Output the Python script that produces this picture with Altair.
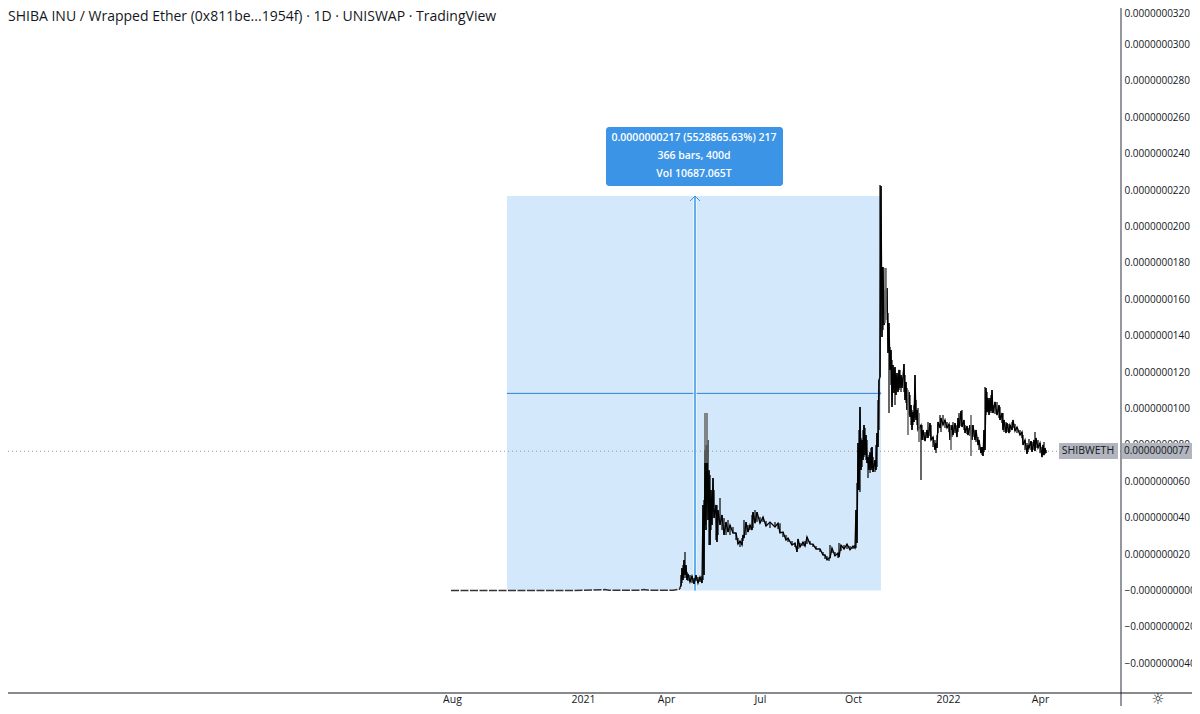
import altair as alt
import pandas as pd

# (trading day since the first bar on the chart, low, high); prices in units of 1e-10
may_bars = [(229,.8,1.9),(230,2.5,8.5),(231,4.1,12.4),(232,5.8,14),(233,6.9,16.8),(234,8.5,21.2),(235,6.9,14),(236,5.8,10.2),(237,5.2,9.1),(239,4.7,8.5),(241,4.1,8),(243,3.6,6.9),(245,5.2,8.5),(247,4.1,7.4),(249,4.7,7.4),(251,4.1,8),(252,5.8,47),(253,8.5,49.7),(254,36,77),(255,33.2,80),(256,50,80),(257,38.7,82.7),(258,25,66),(259,25,63.5),(260,33.2,55.2),(261,36,49.7),(262,43.1,61.8),(263,39.8,55.2),(265,27.7,47),(266,26.6,47),(267,30.5,44.2),(269,36,50.8),(271,33.2,41.5),(273,30.5,39.8),(275,30.5,37.6),(277,32.1,38.7),(279,30.5,36),(282,31.6,34.9),(285,27.7,31.6),(287,25.5,28.8),(289,23.9,27.2),(291,25,28.8),(292,27.2,30.5),(293,28.8,38.7),(295,30.5,37.6),(297,32.1,36),(299,33.2,36),(301,33.2,41.5),(302,34.3,43.1),(304,37,44.2),(306,37.6,43.1)]
summer_bars = [(309,37,40.4),(312,37.6,40.4),(315,35.4,38.2),(319,34.3,37.6),(324,34.9,37.6),(327,33.8,37),(329,31.6,37),(332,29.4,32.1),(335,27.7,30.5),(337,26.6,28.8),(341,25,27.2),(344,23.9,26.1),(346,21.2,24.4),(347,22.8,28.3),(349,23.9,26.1),(352,24.4,26.6),(354,24.4,27.2),(356,25.5,29.4),(359,25.5,27.2),(362,23.9,25.5),(365,22.8,24.4),(369,21.2,22.8),(372,19.5,21.2),(374,17.3,19.5),(376,16.8,19),(378,16.2,17.9),(379,17.9,25),(381,20.6,23.3),(384,19,21.2),(387,17.9,20.6),(388,18.4,26.1),(390,21.7,25),(393,22.8,25),(396,22.8,25.5),(399,22.3,24.4),(402,22.8,24.4),(404,23.3,25)]
october_bars = [(405,23.3,44.2),(406,26.1,59),(407,55.2,81),(408,55.2,88.2),(409,54.1,100.8),(410,66.2,83.8),(411,67.8,82.7),(412,71.7,88.2),(413,73.3,90.9),(414,74.4,89.3),(415,71.7,85.4),(416,70,82.7),(417,61.8,73.3),(418,66.2,74.4),(419,64.5,76),(420,66.2,78.3),(421,67.3,78.8),(422,65.1,73.3),(424,65.1,71.7),(425,66.2,79.9),(426,67.8,86.5),(427,78.8,104.7),(428,88.2,115.6),(429,117.3,222.8),(430,159.6,222.2),(431,139.3,177.7),(432,143.1,177.7),(433,145.8,165.1),(436,152.5,166.2),(437,130.5,152.5),(438,97.5,147),(439,121.2,133.8),(440,112.9,132.1),(441,100.8,126.6),(442,112.9,123.9),(443,108.5,122.2),(444,101.9,122.8),(445,107.4,118.4),(446,110.2,119.5),(447,109,116.8),(448,110.2,121.2),(449,111.3,121.2),(450,109,118.4),(451,111.3,117.3),(453,109,124.4),(454,104.7,118.4),(455,103,114.5),(456,99.2,111.3),(458,96.4,109),(459,95.3,107.4),(460,90.9,101.9),(461,88.2,99.2),(462,90.9,98),(463,92.6,101.9),(464,94.8,118.4),(465,93.7,104.7),(466,90.9,99.2),(467,88.2,100.3),(470,60.7,90.9),(471,82.7,90.9)]
winter_bars = [(472,82.7,88.2),(474,82.1,87.1),(476,83.8,88.2),(477,83.8,92.6),(479,84.9,92),(480,82.7,90.9),(482,78.8,84.3),(484,77.2,82.7),(485,75.5,81),(486,78.3,85.4),(487,86.5,92.6),(489,89.3,96.4),(490,87.1,94.8),(492,90.9,96.4),(494,89.3,93.7),(496,89.3,92.6),(498,87.1,91.5),(499,82.7,90.9),(501,84.3,90.9),(502,85.4,92.6),(504,86.5,92),(506,84.3,90.9),(507,87.1,94.8),(508,89.3,97.5),(510,90.4,98.6),(511,89.8,99.2),(513,88.2,93.7),(514,86.5,90.9),(516,86,90.4),(517,85.4,89.3),(519,84.9,90.9),(521,82.7,90.9),(522,84.3,90.9),(524,82.7,88.2),(525,81.6,88.2),(527,79.9,84.3),(528,77.2,82.7),(530,75.5,78.8),(531,74.4,78.8),(532,73.9,78.3)]
spring_bars = [(533,76.1,88.2),(534,77.2,111.8),(535,96.4,111.3),(536,98,109),(537,98,105.8),(538,96.4,104.7),(539,97.5,105.8),(540,98.6,107.4),(541,97.5,110.2),(542,97.5,101.9),(544,97,103.6),(546,96.4,103.6),(548,94.8,101.9),(549,93.7,100.8),(551,92,97.5),(552,88.2,97.5),(553,87.1,93.7),(555,86.5,92.6),(556,87.1,92),(558,86.5,91.5),(559,87.1,90.9),(561,88.2,92.6),(562,89.3,93.7),(564,87.6,91.5),(566,86.5,89.8),(569,85.4,88.2),(571,83.8,87.1),(572,79.9,85.4),(574,77.2,82.7),(576,75,81),(577,76.1,79.9),(578,78.3,83.2),(580,77.2,82.1),(581,76.1,81.6),(583,77.2,82.7),(584,76.6,87.1),(585,78.3,83.8),(587,78.3,82.7),(589,75.5,81),(591,73.3,78.8),(592,74.4,80),(593,74.4,81.6),(594,75,78.3),(595,75.5,77.2)]

# Wicks that show lighter in the reference
grey_bars = [(254,70,97.5),(256,70,97.5),(434,147,177.2),(435,148.6,177.2),(457,85.4,110.2),(468,81.6,97.5),(500,77.2,88.2),(520,73.9,96.4)]

# Flat opening stretch
flat_day = [0,40,80,120,154,158,188,193,198,222,229]
flat_value = [0,0,0,0,0.5,0.2,0.2,0.5,0.2,0.2,0.8]

y_ticks = [320,300,280,260,240,220,200,180,160,140,120,100,80,60,40,20,0,-20,-40]
x_tick_days = [1,132,215,309,402,497,589]
x_tick_text = ["Aug","2021","Apr","Jul","Oct","2022","Apr"]

TITLE = "SHIBA INU / Wrapped Ether (0x811be...1954f) · 1D · UNISWAP · TradingView"
MEASURE = ["0.0000000217 (5528865.63%) 217","366 bars, 400d","Vol 10687.065T"]
RANGE_START, RANGE_END, RANGE_TOP, RANGE_MID, LAST = 56, 430, 216.7, 108.3, 76.5
ARROW_DAY = 244
FONT = "Open Sans"

all_bars = may_bars+summer_bars+october_bars+winter_bars+spring_bars
bars = pd.DataFrame(all_bars, columns=["day","low","high"])
# The price path swings between each bar's low and the next bar's high
path = pd.DataFrame({"day":[r[0] for r in all_bars],
                     "value":[r[1] if i%2 else r[2] for i,r in enumerate(all_bars)]})
grey = pd.DataFrame(grey_bars, columns=["day","low","high"])
flat = pd.DataFrame({"day":flat_day,"value":flat_value})
rng = pd.DataFrame([{"a":RANGE_START,"b":RANGE_END,"y0":0,"y1":RANGE_TOP,"mid":RANGE_MID,"arrow":ARROW_DAY,"last":LAST}])

lookup = "{" + ",".join(f"'{d}':'{t}'" for d,t in zip(x_tick_days,x_tick_text)) + "}"
xs = alt.Scale(domain=[-443,670], nice=False, zero=False)
ys = alt.Scale(domain=[-56.3,320], nice=False, zero=False)
x_axis = alt.Axis(values=x_tick_days, labelExpr=f"{lookup}[''+datum.value]", title=None,
                  domain=False, ticks=False, grid=False, labelPadding=1, labelFont=FONT,
                  labelFontSize=10.5, labelColor="#131722", labelFlush=False, labelOverlap=False)
y_axis = alt.Axis(orient="right", values=y_ticks, title=None, domain=False, ticks=False, grid=False,
                  labelPadding=3, labelFont=FONT, labelFontSize=10, labelColor="#131722",
                  labelFlush=False, labelOverlap=False, labelBound=False,
                  labelBaseline={"condition":{"test":"datum.value>310","value":"top"},"value":"middle"},
                  labelExpr="(datum.value<=0?'−':'')+'0.0000000'+format(abs(datum.value),'03d')")
xf = lambda f: alt.X(f, type="quantitative", scale=xs, axis=x_axis)
yf = lambda f: alt.Y(f, type="quantitative", scale=ys, axis=y_axis)

box = alt.Chart(rng).mark_rect(color="#d3e8fb").encode(xf("a"), x2="b", y=yf("y0"), y2="y1")
flat_line = alt.Chart(flat).mark_line(color="#333333", strokeWidth=1.5, strokeDash=[8,1.5]).encode(xf("day"), yf("value"))
last_line = alt.Chart(rng).mark_rule(color="#9598a1", strokeWidth=1, strokeDash=[1,3]).encode(
    x=alt.value(0), x2=alt.value(1113), y=yf("last"))
mid_line = alt.Chart(rng).mark_rule(color="#2f7fd0", strokeWidth=1).encode(xf("a"), x2="b", y=yf("mid"))
halo = alt.Chart(rng).mark_rule(color="#ffffff", strokeWidth=3.5, opacity=0.7).encode(xf("arrow"), y=yf("y0"), y2="y1")
arrow = alt.Chart(rng).mark_rule(color="#64aeee", strokeWidth=2).encode(xf("arrow"), y=yf("y0"), y2="y1")
head_up = alt.Chart(rng).mark_point(shape="M-1,1L0,0L1,1", size=100, color="#3d94e6", filled=False, strokeWidth=1, opacity=1).encode(xf("arrow"), y=yf("y1"))
head_right = alt.Chart(rng).mark_point(shape="M-1,-1L0,0L-1,1", size=40, color="#3d94e6", filled=False, strokeWidth=1, opacity=1).encode(xf("b"), y=yf("mid"))

price_path = alt.Chart(path).mark_line(color="#000000", strokeWidth=1.3).encode(xf("day"), yf("value"))
wicks = alt.Chart(bars).mark_rule(color="#000000", strokeWidth=1.2).encode(xf("day"), y=yf("low"), y2="high")
grey_wicks = alt.Chart(grey).mark_rule(color="#6b6b6b", strokeWidth=1.6).encode(xf("day"), y=yf("low"), y2="high")

measure_box = alt.Chart(rng).mark_rect(color="#3c94e6", cornerRadius=3).encode(
    x=alt.value(598), x2=alt.value(775), y=alt.value(119), y2=alt.value(178))
measure_text = alt.Chart(pd.DataFrame({"t":MEASURE,"py":[130,148,166]})).mark_text(
    color="#ffffff", font=FONT, fontSize=10.5, fontWeight=600, align="center", baseline="middle").encode(
    x=alt.value(686), y=alt.Y("py:Q", scale=None), text="t:N")

title = alt.Chart(pd.DataFrame({"t":[TITLE]})).mark_text(color="#131722", font=FONT, fontSize=14,
    align="left", baseline="middle").encode(x=alt.value(0), y=alt.value(9), text="t:N")

y_line = alt.Chart(rng).mark_rule(color="#5d606b", strokeWidth=1.3).encode(x=alt.value(1113), y=alt.value(0), y2=alt.value(698))
x_line = alt.Chart(rng).mark_rule(color="#131722", strokeWidth=1).encode(x=alt.value(0), x2=alt.value(1184), y=alt.value(685))

sym_box = alt.Chart(rng).mark_rect(color="#b2b5be").encode(x=alt.value(1051), x2=alt.value(1110), y=alt.value(435), y2=alt.value(451))
sym_text = alt.Chart(pd.DataFrame({"t":["SHIBWETH"]})).mark_text(color="#131722", font=FONT, fontSize=10.5).encode(
    x=alt.value(1080), y=alt.value(443), text="t:N")
price_box = alt.Chart(rng).mark_rect(color="#b2b5be").encode(x=alt.value(1114), x2=alt.value(1184), y=alt.value(435), y2=alt.value(451))
price_text = alt.Chart(pd.DataFrame({"t":["0.0000000077"]})).mark_text(color="#131722", font=FONT, fontSize=10, align="left").encode(
    x=alt.value(1116), y=alt.value(443), text="t:N")
gear = alt.Chart(pd.DataFrame({"t":["☼"]})).mark_text(color="#131722", font="DejaVu Sans", fontSize=15).encode(
    x=alt.value(1150), y=alt.value(691), text="t:N")

chart = alt.layer(
    box, last_line, mid_line, halo, arrow, head_up, head_right, flat_line, price_path, wicks, grey_wicks,
    measure_box, measure_text, title, y_line, x_line, sym_box, sym_text, price_box, price_text, gear
).properties(
    width=1113, height=685,
    autosize=alt.AutoSizeParams(type="none"),
    padding={"left":0,"top":0,"right":71,"bottom":13},
    background="#ffffff"
).configure_view(strokeWidth=0)

chart.save("out.html", embed_options={"renderer":"svg","actions":False})
